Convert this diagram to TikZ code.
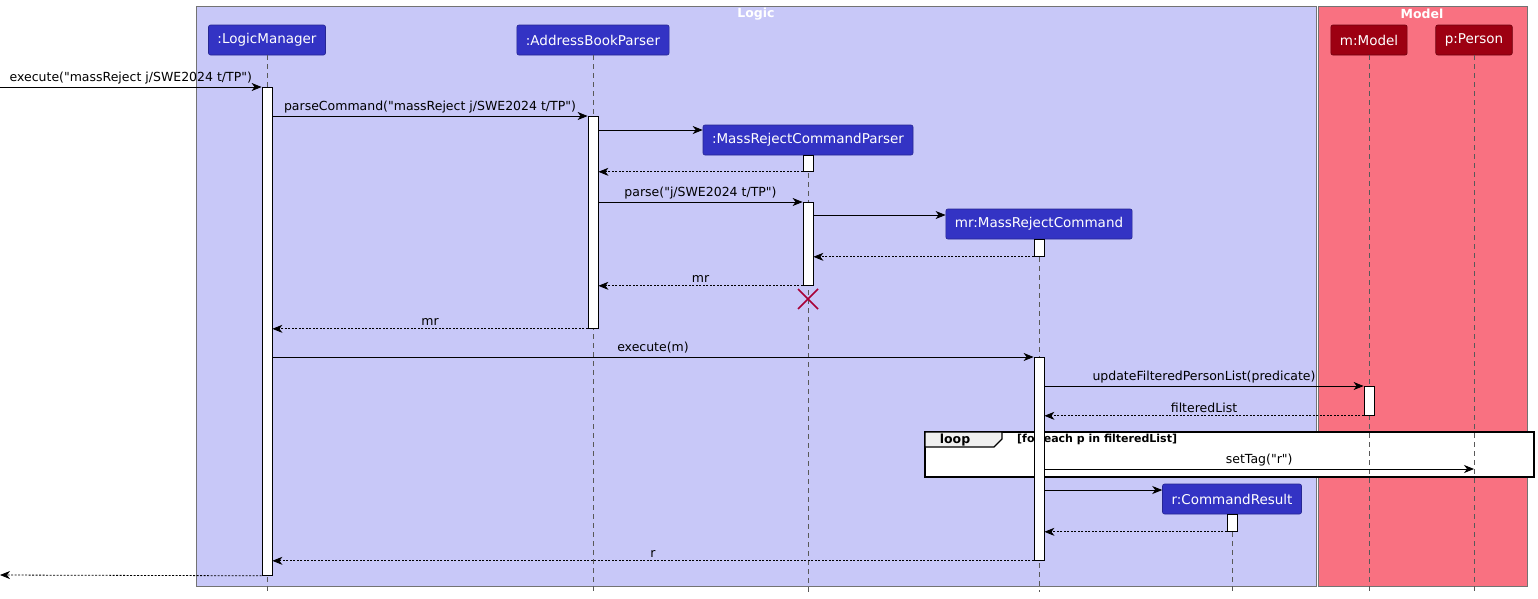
\documentclass[tikz,border=0pt]{standalone}
\usepackage{fontspec}
\setmainfont{DejaVu Sans}[Ligatures=TeXOff]
\usetikzlibrary{arrows.meta,positioning}

\definecolor{logicbg}{HTML}{C8C8F8}
\definecolor{modelbg}{HTML}{F97181}
\definecolor{logicpart}{HTML}{3333C4}
\definecolor{modelpart}{HTML}{9D0012}
\definecolor{destroyred}{HTML}{A80036}

\tikzset{
  part/.style={rounded corners=2pt, text=white, minimum height=30pt, inner xsep=9pt, line width=0.6pt, font=\fontsize{13.5}{16}\selectfont},
  lpart/.style={part, fill=logicpart, draw=logicpart!75!black},
  mpart/.style={part, fill=modelpart, draw=modelpart!70!black},
  life/.style={draw=gray!70!black, dash pattern=on 5pt off 4pt, line width=0.7pt},
  act/.style={draw, fill=white, minimum width=10pt, inner sep=0pt, line width=0.8pt, anchor=north},
  msg/.style={-{Stealth[length=10pt,width=8pt,inset=3pt]}, line width=0.8pt},
  ret/.style={msg, dash pattern=on 2pt off 1.5pt},
  lbl/.style={above=2pt, midway, inner sep=1pt, font=\fontsize{12.5}{15}\selectfont},
  grp/.style={draw=gray!90!black, line width=0.7pt},
  grptitle/.style={text=white, inner sep=0pt, font=\bfseries\fontsize{12.5}{15}\selectfont},
}

\begin{document}
\begin{tikzpicture}[x=1pt, y=-1pt]
    \useasboundingbox (0,0) rectangle (1538,598);

    % groups
    \draw[grp, fill=logicbg] (196,6) rectangle (1316,586);
    \draw[grp, fill=modelbg] (1318,6) rectangle (1527,586);
    \node[grptitle] (logictitle) at (756,14) {Logic};
    \node[grptitle] (modeltitle) at (1422,14) {Model};

    % loop frame
    \draw[line width=1.5pt, fill=white] (925,432) rectangle (1534,477);
    \draw[line width=1.2pt, fill=gray!12] (925,432) -- (1002,432) -- (1002,439) -- (994,447) -- (925,447) -- cycle;
    \node[font=\bfseries\fontsize{12.5}{15}\selectfont, inner sep=0pt] (looptag) at (955,440) {loop};
    \node[font=\bfseries\fontsize{11}{13}\selectfont, inner sep=0pt, anchor=west] (guard) at (1017,439) {[for each p in filteredList]};

    % participants
    \node[lpart] (lm) at (267,40) {:LogicManager};
    \node[lpart] (abp) at (593,40) {:AddressBookParser};
    \node[lpart] (mrcp) at (808,140) {:MassRejectCommandParser};
    \node[lpart] (mr) at (1039,224) {mr:MassRejectCommand};
    \node[lpart] (r) at (1232,499) {r:CommandResult};
    \node[mpart] (m) at (1369,40) {m:Model};
    \node[mpart] (p) at (1474,40) {p:Person};

    % lifelines
    \foreach \who in {lm, abp, mrcp, mr, r, m, p}
        \draw[life] (\who.south) -- (\who.south |- 0,592);

    % activations
    \node[act, minimum height=488pt] (lmA) at (267,87) {};
    \node[act, minimum height=212pt] (abpA) at (593,116) {};
    \node[act, minimum height=16pt] (mrcpA) at (808,155) {};
    \node[act, minimum height=83pt] (mrcpB) at (808,202) {};
    \node[act, minimum height=17pt] (mrA) at (1039,239) {};
    \node[act, minimum height=203pt] (mrB) at (1039,357) {};
    \node[act, minimum height=29pt] (mA) at (1369,386) {};
    \node[act, minimum height=17pt] (rA) at (1232,514) {};

    \coordinate (src) at (0,87);
    \coordinate (sink) at (0,575);

    % messages
    \draw[msg] (src) -- node[lbl] {execute("massReject j/SWE2024 t/TP")} (lmA.north west);
    \draw[msg] (lmA.east |- abpA.north) -- node[lbl] {parseCommand("massReject j/SWE2024 t/TP")} (abpA.north west);
    \draw[msg] (abpA.east |- 0,130) -- (mrcp.west |- 0,130);
    \draw[ret] (mrcpA.south west) -- (abpA.east |- mrcpA.south);
    \draw[msg] (abpA.east |- mrcpB.north) -- node[lbl] {parse("j/SWE2024 t/TP")} (mrcpB.north west);
    \draw[msg] (mrcpB.east |- 0,215) -- (mr.west |- 0,215);
    \draw[ret] (mrA.south west) -- (mrcpB.east |- mrA.south);
    \draw[ret] (mrcpB.south west) -- node[lbl] {mr} (abpA.east |- mrcpB.south);
    \draw[destroyred, line width=1.5pt] (798,289) -- (818,309) (818,289) -- (798,309);
    \draw[ret] (abpA.south west) -- node[lbl] {mr} (lmA.east |- abpA.south);
    \draw[msg] (lmA.east |- mrB.north) -- node[lbl] {execute(m)} (mrB.north west);
    \draw[msg] (mrB.east |- mA.north) -- node[lbl] {updateFilteredPersonList(predicate)} (mA.north west);
    \draw[ret] (mA.south west) -- node[lbl] {filteredList} (mrB.east |- mA.south);
    \draw[msg] (mrB.east |- 0,469) -- node[lbl] {setTag("r")} (p.south |- 0,469);
    \draw[msg] (mrB.east |- 0,490) -- (r.west |- 0,490);
    \draw[ret] (rA.south west) -- (mrB.east |- rA.south);
    \draw[ret] (mrB.south west) -- node[lbl] {r} (lmA.east |- mrB.south);
    \draw[ret] (lmA.south west) -- (sink);
\end{tikzpicture}
\end{document}
